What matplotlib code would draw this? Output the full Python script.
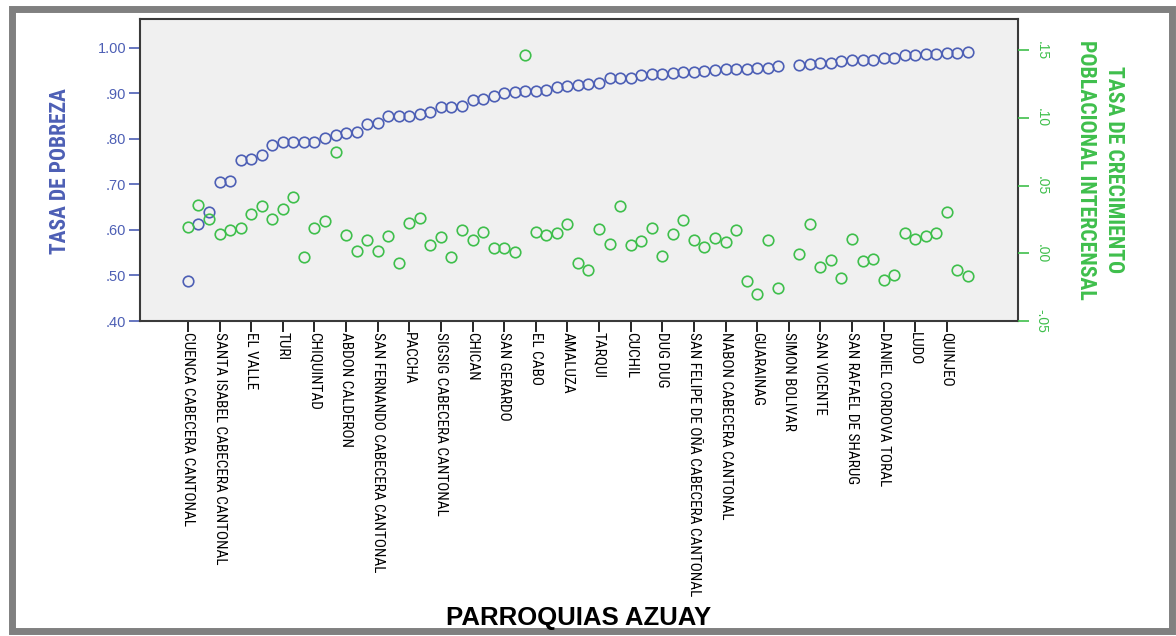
"""Tasa de pobreza vs tasa de crecimiento poblacional intercensal por parroquia (Azuay)."""

import matplotlib

matplotlib.use("Agg")
import matplotlib.pyplot as plt
import numpy as np
from matplotlib import font_manager
from matplotlib.patches import Rectangle
from matplotlib.ticker import FuncFormatter

nan = np.nan

# ---------------------------------------------------------------------------
# Data (ordered by poverty rate)
# ---------------------------------------------------------------------------

tasa_pobreza = [
    0.487, 0.613, 0.640, 0.705, 0.707, 0.753, 0.755, 0.765, 0.786, 0.792,
    0.792, 0.792, 0.792, 0.801, 0.809, 0.812, 0.815, 0.832, 0.835, 0.850,
    0.851, 0.851, 0.855, 0.858, 0.870, 0.870, 0.873, 0.885, 0.888, 0.894,
    0.900, 0.902, 0.904, 0.905, 0.908, 0.913, 0.917, 0.919, 0.921, 0.923,
    0.934, 0.934, 0.934, 0.940, 0.942, 0.943, 0.945, 0.946, 0.947, 0.948,
    0.950, 0.953, 0.953, 0.953, 0.955, 0.956, 0.959, nan, 0.963, 0.964,
    0.967, 0.967, 0.970, 0.972, 0.972, 0.972, 0.977, 0.977, 0.983, 0.985,
    0.986, 0.986, 0.988, 0.988, 0.991,
]

tasa_crecimiento = [
    0.0195, 0.0360, 0.0250, 0.0146, 0.0175, 0.0190, 0.0293, 0.0352, 0.0250, 0.0325,
    0.0419, -0.0027, 0.0190, 0.0239, 0.0750, 0.0135, 0.0017, 0.0096, 0.0017, 0.0126,
    -0.0069, 0.0220, 0.0260, 0.0061, 0.0117, -0.0027, 0.0175, 0.0101, 0.0160, 0.0040,
    0.0042, 0.0012, 0.1463, 0.0160, 0.0138, 0.0153, 0.0214, -0.0072, -0.0126, 0.0180,
    0.0069, 0.0352, 0.0064, 0.0089, 0.0185, -0.0017, 0.0143, 0.0249, 0.0096, 0.0045,
    0.0113, 0.0086, 0.0172, -0.0202, -0.0300, 0.0101, -0.0256, nan, -0.0005, 0.0217,
    -0.0101, -0.0047, -0.0180, 0.0108, -0.0057, -0.0039, -0.0200, -0.0163, 0.0150, 0.0103,
    0.0126, 0.0153, 0.0308, -0.0126, -0.0168,
]

# only every third parroquia carries a label on the axis
parroquias_rotuladas = [
    "CUENCA CABECERA CANTONAL",
    "SANTA ISABEL CABECERA CANTONAL",
    "EL VALLE",
    "TURI",
    "CHIQUINTAD",
    "ABDON CALDERON",
    "SAN FERNANDO CABECERA CANTONAL",
    "PACCHA",
    "SIGSIG CABECERA CANTONAL",
    "CHICAN",
    "SAN GERARDO",
    "EL CABO",
    "AMALUZA",
    "TARQUI",
    "CUCHIL",
    "DUG DUG",
    "SAN FELIPE DE OÑA CABECERA CANTONAL",
    "NABON CABECERA CANTONAL",
    "GUARAINAG",
    "SIMON BOLIVAR",
    "SAN VICENTE",
    "SAN RAFAEL DE SHARUG",
    "DANIEL CORDOVA TORAL",
    "LUDO",
    "QUINJEO",
]
paso_rotulo = 3

ticks_pobreza = [0.40, 0.50, 0.60, 0.70, 0.80, 0.90, 1.00]
ticks_crecimiento = [-0.05, 0.00, 0.05, 0.10, 0.15]

# ---------------------------------------------------------------------------
# Style
# ---------------------------------------------------------------------------

BLUE = "#4d5fb5"
GREEN = "#3fbf4c"
FRAME = "#3a3a3a"
PLOT_BG = "#f0f0f0"


def _pick_font(candidates: list[str]) -> str:
    names = {f.name for f in font_manager.fontManager.ttflist}
    for c in candidates:
        if c in names:
            return c
    return "DejaVu Sans"


NARROW = _pick_font(["Liberation Sans Narrow", "Arial Narrow", "Roboto Condensed", "Liberation Sans"])
SANS = _pick_font(["Liberation Sans", "Arial", "DejaVu Sans"])


def _spss_fmt(v, _pos=None):
    s = f"{v:.2f}"
    return s.replace("0.", ".", 1) if s.startswith(("0.", "-0.")) else s


W, H = 1176, 636
fig = plt.figure(figsize=(W / 100, H / 100), dpi=100)
fig.patch.set_facecolor("white")

# outer grey frame
fig.add_artist(
    Rectangle(
        (11.5 / W, 1 - 631 / H),
        (1172 - 11.5) / W,
        (631 - 8.5) / H,
        transform=fig.transFigure,
        facecolor="none",
        edgecolor="#808080",
        linewidth=5.0,
    )
)

ax = fig.add_axes([140 / W, 1 - 321 / H, (1018 - 140) / W, (321 - 19) / H])
ax.set_facecolor(PLOT_BG)
ax2 = ax.twinx()

x = np.arange(len(tasa_pobreza))

ax.plot(x, tasa_pobreza, ls="none", marker="o", ms=7.6, mfc="none", mec=BLUE, mew=1.2)
ax2.plot(x, tasa_crecimiento, ls="none", marker="o", ms=7.6, mfc="none", mec=GREEN, mew=1.2)

ax.set_xlim(-4.55, 78.75)
ax.set_ylim(0.40, 1.063)
ax2.set_ylim(-0.05, 0.173)

# ---- left axis -------------------------------------------------------------
ax.set_yticks(ticks_pobreza)
ax.yaxis.set_major_formatter(FuncFormatter(_spss_fmt))
ax.tick_params(axis="y", colors=BLUE, length=8, width=1.2, labelsize=10.5, pad=2)
for lab in ax.get_yticklabels():
    lab.set_fontfamily(SANS)

# ---- right axis ------------------------------------------------------------
ax2.set_yticks(ticks_crecimiento)
ax2.yaxis.set_major_formatter(FuncFormatter(_spss_fmt))
ax2.tick_params(axis="y", colors=GREEN, length=8, width=1.2, labelsize=10, pad=4)
for lab in ax2.get_yticklabels():
    lab.set_fontfamily(SANS)
    lab.set_rotation(-90)
    lab.set_va("center")

# ---- bottom axis -----------------------------------------------------------
ax.set_xticks(x[::paso_rotulo])
ax.set_xticklabels(parroquias_rotuladas, rotation=-90, ha="center", va="top",
                   fontfamily=NARROW, fontsize=11)
ax.tick_params(axis="x", colors="black", length=8, width=1.2, pad=0)

for spine in ax.spines.values():
    spine.set_color(FRAME)
    spine.set_linewidth(1.5)
for spine in ax2.spines.values():
    spine.set_visible(False)

# ---- titles ----------------------------------------------------------------
fig.text(60 / W, 1 - 171 / H, "TASA DE POBREZA", rotation=90, ha="center", va="center",
         color=BLUE, fontsize=15.5, fontweight="bold", fontfamily=NARROW)
fig.text(1100 / W, 1 - 170 / H, "TASA DE CRECIMIENTO\nPOBLACIONAL INTERCENSAL",
         rotation=-90, ha="center", va="center", multialignment="center",
         color=GREEN, fontsize=15.7, fontweight="bold", fontfamily=NARROW, linespacing=1.35)
fig.text(579 / W, 1 - 618 / H, "PARROQUIAS AZUAY", ha="center", va="center",
         color="black", fontsize=18.5, fontweight="bold", fontfamily=SANS)

fig.savefig("out.png", dpi=100)
